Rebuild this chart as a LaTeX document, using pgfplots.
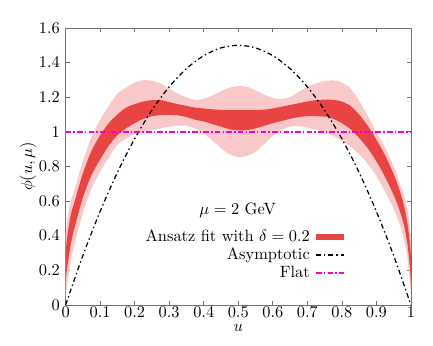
\documentclass[border=0pt]{standalone}
\usepackage{pgfplots}
\usepackage{pgfplotstable}
\pgfplotsset{compat=1.18}
\usepgfplotslibrary{fillbetween}

\definecolor{darkband}{HTML}{E84444}
\definecolor{lightband}{HTML}{F9C9C9}
\definecolor{flatpink}{HTML}{FF00CC}

% u, light lower, dark lower, dark upper, light upper
\pgfplotstableread{
u     LL    DL    DU    LU
0.000 0.05  0.14  0.30  0.40
0.005 0.12  0.22  0.40  0.50
0.015 0.25  0.35  0.52  0.60
0.025 0.34  0.44  0.59  0.66
0.050 0.53  0.62  0.76  0.83
0.075 0.67  0.75  0.89  0.97
0.100 0.77  0.84  0.98  1.07
0.125 0.85  0.92  1.05  1.15
0.150 0.925 0.98  1.10  1.22
0.175 0.96  1.02  1.14  1.255
0.200 0.985 1.05  1.16  1.285
0.225 1.00  1.075 1.175 1.298
0.250 1.01  1.09  1.183 1.295
0.275 1.02  1.097 1.183 1.28
0.300 1.03  1.098 1.172 1.25
0.325 1.035 1.095 1.16  1.22
0.350 1.035 1.085 1.15  1.20
0.375 1.02  1.07  1.14  1.185
0.400 0.99  1.06  1.135 1.19
0.425 0.95  1.045 1.13  1.21
0.450 0.905 1.03  1.127 1.235
0.475 0.87  1.015 1.125 1.255
0.500 0.855 1.008 1.125 1.265
0.525 0.86  1.01  1.125 1.26
0.550 0.885 1.02  1.125 1.24
0.575 0.93  1.035 1.128 1.215
0.600 0.975 1.05  1.135 1.195
0.625 1.01  1.062 1.145 1.19
0.650 1.03  1.075 1.155 1.20
0.675 1.032 1.085 1.165 1.23
0.700 1.025 1.09  1.175 1.26
0.725 1.012 1.09  1.183 1.28
0.750 1.00  1.088 1.186 1.293
0.775 0.975 1.075 1.185 1.297
0.800 0.95  1.05  1.175 1.285
0.825 0.915 1.015 1.15  1.25
0.850 0.87  0.965 1.10  1.18
0.875 0.815 0.905 1.035 1.09
0.900 0.745 0.83  0.955 1.00
0.925 0.655 0.74  0.865 0.91
0.950 0.555 0.635 0.755 0.80
0.965 0.48  0.56  0.675 0.72
0.980 0.38  0.46  0.575 0.63
0.990 0.27  0.35  0.47  0.55
0.997 0.14  0.22  0.36  0.44
1.000 0.05  0.12  0.28  0.36
}\band

\begin{document}
\begin{tikzpicture}
\begin{axis}[
    scale only axis,
    width=210.7pt, height=169pt,
    xmin=0, xmax=1, ymin=0, ymax=1.6,
    xtick={0,0.1,0.2,0.3,0.4,0.5,0.6,0.7,0.8,0.9,1},
    ytick={0,0.2,0.4,0.6,0.8,1,1.2,1.4,1.6},
    tick align=inside,
    major tick length=2.5pt,
    axis line style={black!55},
    every tick/.style={black!55, thin},
    xticklabel style={yshift=2pt},
    clip=false,
    xlabel={$u$},
    ylabel={$\phi(u,\mu)$},
    xlabel style={at={(axis description cs:0.5,-0.085)}, anchor=center},
    ylabel style={at={(axis description cs:-0.1085,0.5)}, anchor=center},
    legend cell align=right,
    legend plot pos=right,
    legend style={draw=none, fill=none, at={(axis cs:0.83,0.475)}, anchor=north east,
        row sep=-1.5pt, font=\normalsize},
]

% bands
\addplot[name path=LL, draw=none, smooth, forget plot] table[x=u, y=LL] {\band};
\addplot[name path=LU, draw=none, smooth, forget plot] table[x=u, y=LU] {\band};
\addplot[name path=DL, draw=none, smooth, forget plot] table[x=u, y=DL] {\band};
\addplot[name path=DU, draw=none, smooth, forget plot] table[x=u, y=DU] {\band};
\addplot[fill=lightband, draw=none, forget plot] fill between[of=LL and LU];
\addplot[fill=darkband, draw=none, forget plot] fill between[of=DL and DU];

\addlegendimage{line width=3.6pt, darkband}
\addlegendentry{Ansatz fit with $\delta = 0.2$}

% asymptotic 6u(1-u)
\addplot[black, line width=0.75pt, smooth,
    dash pattern=on 3pt off 1.8pt on 0.9pt off 1.8pt] coordinates {
    (0,0) (0.05,0.285) (0.1,0.54) (0.15,0.765) (0.2,0.96) (0.25,1.125)
    (0.3,1.26) (0.35,1.365) (0.4,1.44) (0.45,1.485) (0.5,1.5)
    (0.55,1.485) (0.6,1.44) (0.65,1.365) (0.7,1.26) (0.75,1.125)
    (0.8,0.96) (0.85,0.765) (0.9,0.54) (0.95,0.285) (1,0)
};
\addlegendentry{Asymptotic}

% flat
\addplot[color=flatpink, line width=0.9pt,
    dash pattern=on 3.5pt off 1.3pt on 0.9pt off 1.3pt] coordinates {
    (0,1) (1,1)
};
\addlegendentry{Flat}

\node at (axis cs:0.498,0.545) {$\mu = 2$ GeV};

\path (rel axis cs:-0.19,-0.147) rectangle (rel axis cs:1.064,1.101);
\end{axis}
\end{tikzpicture}
\end{document}
